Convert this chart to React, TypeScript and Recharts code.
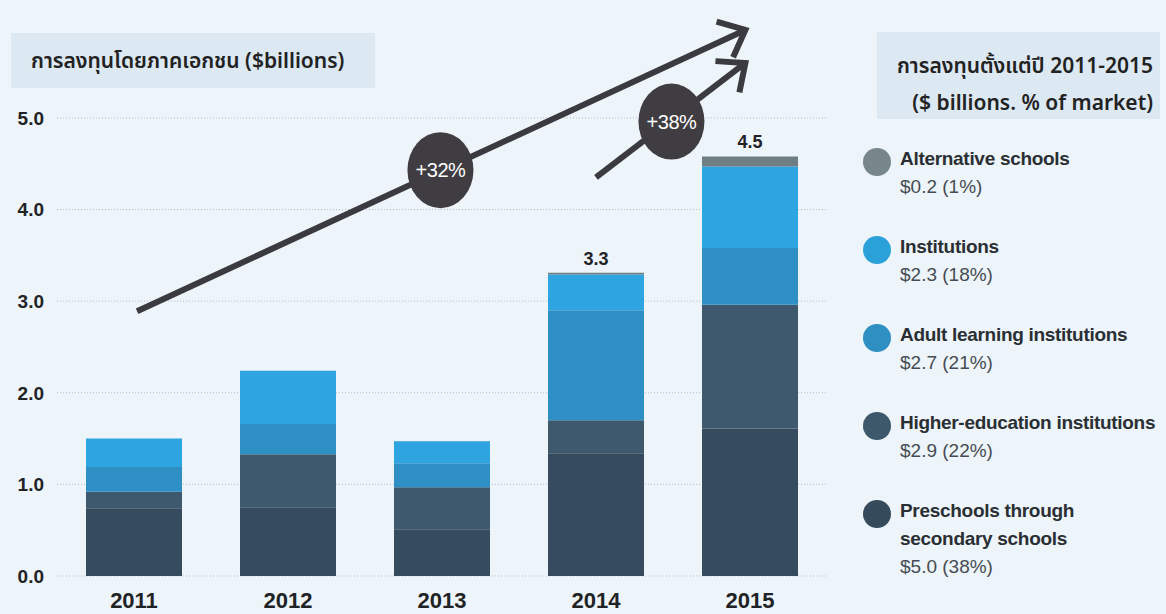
import React from 'react';
import {
  BarChart,
  Bar,
  XAxis,
  YAxis,
  CartesianGrid,
  LabelList,
  ReferenceLine,
  ReferenceDot
} from 'recharts';

// values ($ billions), bottom to top of each stack
const years = ['2011', '2012', '2013', '2014', '2015'];
const preschool = [0.74, 0.75, 0.51, 1.34, 1.61];
const higherEd = [0.18, 0.58, 0.46, 0.36, 1.35];
const adult = [0.27, 0.33, 0.26, 1.2, 0.62];
const institutions = [0.31, 0.58, 0.24, 0.39, 0.89];
const alternative = [0, 0, 0, 0.02, 0.11];
const totalLabels = ['1.5', '2.2', '1.5', '3.3', '4.5'];
const yTicks = [0, 1, 2, 3, 4, 5];

const legendItems = [
  { name: 'Alternative schools', value: '$0.2 (1%)', color: '#77868a' },
  { name: 'Institutions', value: '$2.3 (18%)', color: '#2ba1da' },
  { name: 'Adult learning institutions', value: '$2.7 (21%)', color: '#2e8fc3' },
  { name: 'Higher-education institutions', value: '$2.9 (22%)', color: '#3d576b' },
  { name: 'Preschools through\nsecondary schools', value: '$5.0 (38%)', color: '#354a5b' }
];

// growth arrows and their badges, in (category index, $ billions)
const arrows = [
  { from: [0.02, 2.89], to: [3.97, 5.96] },
  { from: [3.0, 4.35], to: [3.97, 5.6] }
];
const badges = [
  { x: 1.99, y: 4.43, text: '+32%' },
  { x: 3.49, y: 4.96, text: '+38%' }
];

const data = years.map((year, i) => ({
  year,
  idx: i,
  preschool: preschool[i],
  higherEd: higherEd[i],
  adult: adult[i],
  institutions: institutions[i],
  alternative: alternative[i],
  total: totalLabels[i]
}));

const CHART_W = 840;
const MARGIN = { top: 8, right: 13, left: 10, bottom: 8 };
const Y_AXIS_W = 47;
// half a category band, so index i on the numeric axis sits on the bar centre
const HALF_BAND = (CHART_W - MARGIN.left - MARGIN.right - Y_AXIS_W) / years.length / 2;

const ARROW_COLOR = '#3b3a40';
const FONT = '"Liberation Sans", Arial, sans-serif';
const THAI_FONT = '"Noto Sans", "Noto Sans Thai", Tahoma, sans-serif';

const ArrowShape = (p: any) => {
  const { x1, y1, x2, y2 } = p;
  const a = Math.atan2(y2 - y1, x2 - x1);
  const len = 30;
  const spread = (41 * Math.PI) / 180;
  const ax = x2 + len * Math.cos(a + Math.PI - spread);
  const ay = y2 + len * Math.sin(a + Math.PI - spread);
  const bx = x2 + len * Math.cos(a + Math.PI + spread);
  const by = y2 + len * Math.sin(a + Math.PI + spread);
  return (
    <g>
      <line x1={x1} y1={y1} x2={x2} y2={y2} stroke={ARROW_COLOR} strokeWidth={6} />
      <polyline
        points={`${ax},${ay} ${x2},${y2} ${bx},${by}`}
        fill="none"
        stroke={ARROW_COLOR}
        strokeWidth={6}
        strokeLinejoin="miter"
      />
    </g>
  );
};

const BadgeShape = (text: string) => (p: any) => (
  <g>
    <ellipse cx={p.cx} cy={p.cy} rx={33} ry={38} fill="#403d42" />
    <text
      x={p.cx}
      y={p.cy}
      dy={7}
      textAnchor="middle"
      fill="#ffffff"
      fontSize={20}
      fontFamily={FONT}
      letterSpacing={-0.5}
    >
      {text}
    </text>
  </g>
);

const TotalLabel = (props: any) => {
  const { x, y, width, value } = props;
  return (
    <text
      x={x + width / 2}
      y={y - 8}
      textAnchor="middle"
      fill="#1f2326"
      fontSize={18}
      fontWeight="bold"
      fontFamily={FONT}
    >
      {value}
    </text>
  );
};

export default function App() {
  return (
    <div
      style={{
        position: 'fixed',
        top: 0,
        left: 0,
        width: 1166,
        height: 614,
        background: '#edf4fa',
        overflow: 'hidden',
        fontFamily: FONT
      }}
    >
      <BarChart
        width={CHART_W}
        height={614}
        data={data}
        margin={MARGIN}
        barSize={96}
      >
        <CartesianGrid
          vertical={false}
          horizontalValues={yTicks}
          stroke="#b3bec8"
          strokeDasharray="1 2"
        />
        <XAxis
          dataKey="year"
          axisLine={false}
          tickLine={false}
          tickSize={0}
          tickMargin={16}
          height={30}
          tick={{ fill: '#1f2326', fontSize: 22, fontWeight: 'bold', fontFamily: FONT }}
        />
        <XAxis
          xAxisId="n"
          dataKey="idx"
          type="number"
          domain={[0, years.length - 1]}
          padding={{ left: HALF_BAND, right: HALF_BAND }}
          allowDataOverflow
          hide
        />
        <YAxis
          domain={[0, 6.2]}
          ticks={yTicks}
          width={Y_AXIS_W}
          axisLine={false}
          tickLine={false}
          tickSize={0}
          tickMargin={13}
          tickFormatter={(v) => v.toFixed(1)}
          tick={{ fill: '#1f2326', fontSize: 19, fontWeight: 'bold', fontFamily: FONT }}
        />
        <Bar dataKey="preschool" stackId="a" fill="#364b5d" isAnimationActive={false} />
        <Bar dataKey="higherEd" stackId="a" fill="#3e596d" isAnimationActive={false} />
        <Bar dataKey="adult" stackId="a" fill="#2e8fc5" isAnimationActive={false} />
        <Bar dataKey="institutions" stackId="a" fill="#2ea5e0" isAnimationActive={false} />
        <Bar dataKey="alternative" stackId="a" fill="#6f7f83" isAnimationActive={false}>
          <LabelList dataKey="total" content={<TotalLabel />} />
        </Bar>
        {arrows.map((ar, i) => (
          <ReferenceLine
            key={'ar' + i}
            xAxisId="n"
            ifOverflow="visible"
            segment={[
              { x: ar.from[0], y: ar.from[1] },
              { x: ar.to[0], y: ar.to[1] }
            ]}
            shape={ArrowShape}
          />
        ))}
        {badges.map((b) => (
          <ReferenceDot
            key={b.text}
            xAxisId="n"
            x={b.x}
            y={b.y}
            r={35}
            ifOverflow="visible"
            shape={BadgeShape(b.text)}
          />
        ))}
      </BarChart>

      <div
        style={{
          position: 'absolute',
          left: 11,
          top: 33,
          width: 364,
          height: 55,
          background: '#dce8f2',
          boxSizing: 'border-box',
          paddingLeft: 20,
          lineHeight: '55px',
          fontFamily: THAI_FONT,
          fontWeight: 600,
          fontSize: 21,
          color: '#222'
        }}
      >
        การลงทุนโดยภาคเอกชน ($billions)
      </div>

      <div
        style={{
          position: 'absolute',
          left: 877,
          top: 32,
          width: 283,
          height: 87,
          background: '#dce8f2',
          boxSizing: 'border-box',
          paddingRight: 7,
          paddingTop: 15,
          textAlign: 'right',
          lineHeight: '37px',
          fontFamily: THAI_FONT,
          fontWeight: 600,
          fontSize: 21,
          color: '#222',
          whiteSpace: 'nowrap'
        }}
      >
        <div>การลงทุนตั้งแต่ปี 2011-2015</div>
        <div>($ billions. % of market)</div>
      </div>

      {legendItems.map((item, i) => (
        <div
          key={item.name}
          style={{
            position: 'absolute',
            left: 863,
            top: 145 + i * 88,
            display: 'flex',
            alignItems: 'flex-start'
          }}
        >
          <div
            style={{
              width: 28,
              height: 28,
              borderRadius: '50%',
              background: item.color,
              marginTop: 3,
              marginRight: 9,
              flexShrink: 0
            }}
          />
          <div style={{ fontSize: 19, lineHeight: '28px', whiteSpace: 'nowrap' }}>
            {item.name.split('\n').map((line) => (
              <div key={line} style={{ fontWeight: 'bold', color: '#2a2f33', letterSpacing: -0.3 }}>
                {line}
              </div>
            ))}
            <div style={{ color: '#464c53' }}>{item.value}</div>
          </div>
        </div>
      ))}
    </div>
  );
}
